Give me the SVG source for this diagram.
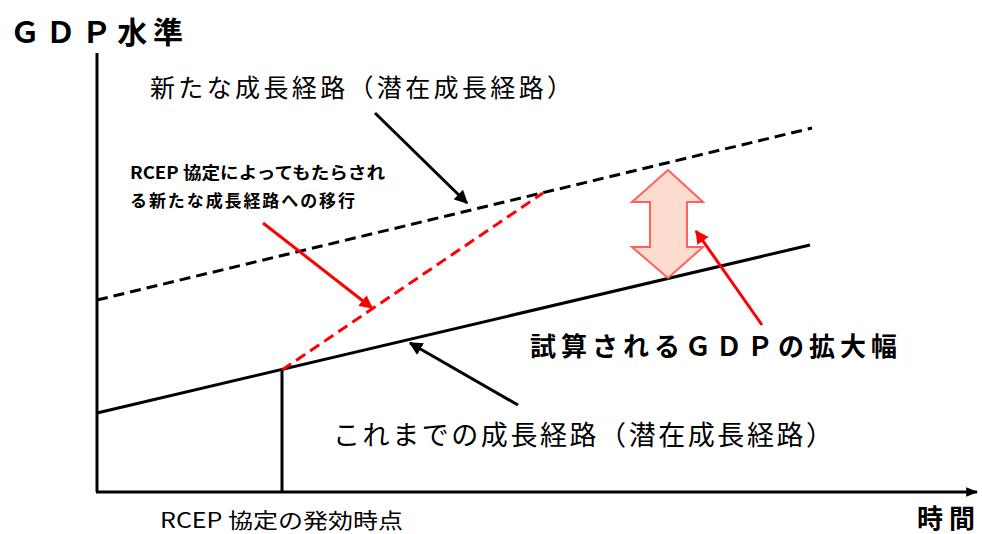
<svg xmlns="http://www.w3.org/2000/svg" width="983" height="534" viewBox="0 0 983 534">
<style>
text{font-family:"Noto Sans CJK JP","Noto Sans",sans-serif;fill:#000}
.b{font-weight:bold}
.ln{fill:none;stroke:#000;stroke-width:3}
.red{stroke:#ff0000}
</style>
<defs>
<marker id="ak" viewBox="0 0 10 10" refX="9" refY="5" markerWidth="4.5" markerHeight="4.5" orient="auto" markerUnits="strokeWidth"><path d="M0,0 L10,5 L0,10 z" fill="#000"/></marker>
<marker id="ar" viewBox="0 0 10 10" refX="9" refY="5" markerWidth="4.5" markerHeight="4.5" orient="auto" markerUnits="strokeWidth"><path d="M0,0 L10,5 L0,10 z" fill="#ff0000"/></marker>
<marker id="ax" viewBox="0 0 10 10" refX="9" refY="5" markerWidth="4" markerHeight="4" orient="auto" markerUnits="strokeWidth"><path d="M0,1 L10,5 L0,9 z" fill="#000"/></marker>
</defs>
<rect width="983" height="534" fill="#fff"/>
<g id="connectors">
<line id="y-axis" class="ln" x1="97" y1="53" x2="97" y2="492"/>
<line id="x-axis" class="ln" x1="96" y1="492" x2="977" y2="492" marker-end="url(#ax)" stroke-width="2.5"/>
<line id="current-path" class="ln" x1="97" y1="413" x2="810" y2="245"/>
<line id="new-path" class="ln" x1="97" y1="300" x2="812" y2="128" stroke-dasharray="11,6"/>
<line id="transition" class="ln red" x1="282" y1="370" x2="543" y2="193" stroke-dasharray="11,6"/>
<line id="start-mark" class="ln" x1="282" y1="370" x2="282" y2="492"/>
<line id="arrow-new" class="ln" x1="375" y1="113" x2="467" y2="203" stroke-width="2.5" marker-end="url(#ak)"/>
<line id="arrow-current" class="ln" x1="518" y1="405" x2="410" y2="343" stroke-width="2.5" marker-end="url(#ak)"/>
<line id="arrow-transition" class="ln red" x1="263" y1="223" x2="372" y2="308" stroke-width="2.5" marker-end="url(#ar)"/>
<line id="arrow-gap" class="ln red" x1="762" y1="325" x2="696" y2="231" stroke-width="2.5" marker-end="url(#ar)"/>
</g>
<g id="gap-arrow">
<path d="M668,170 L703,202 L687,202 L687,247 L703,247 L668,278 L632,247 L650,247 L650,202 L632,202 Z" fill="#fbdccf" stroke="#ff6060" stroke-width="2"/>
</g>
<g id="label-yaxis"><text class="b" x="10" y="43" font-size="30" textLength="173" lengthAdjust="spacing">ＧＤＰ水準</text></g>
<g id="label-new"><text x="150" y="97" font-size="25" textLength="422" lengthAdjust="spacing">新たな成長経路（潜在成長経路）</text></g>
<g id="label-transition">
<text class="b" x="130" y="179" font-size="17" textLength="255" lengthAdjust="spacingAndGlyphs">RCEP 協定によってもたらされ</text>
<text class="b" x="130" y="207" font-size="17" textLength="225" lengthAdjust="spacing">る新たな成長経路への移行</text>
</g>
<g id="label-gap"><text class="b" x="530" y="356" font-size="26" textLength="367" lengthAdjust="spacing">試算されるＧＤＰの拡大幅</text></g>
<g id="label-current"><text x="333" y="445" font-size="27" textLength="500" lengthAdjust="spacing">これまでの成長経路（潜在成長経路）</text></g>
<g id="label-start"><text x="160" y="528" font-size="21" textLength="243" lengthAdjust="spacingAndGlyphs">RCEP 協定の発効時点</text></g>
<g id="label-xaxis"><text class="b" x="917" y="528" font-size="26" textLength="58" lengthAdjust="spacing">時間</text></g>
</svg>
